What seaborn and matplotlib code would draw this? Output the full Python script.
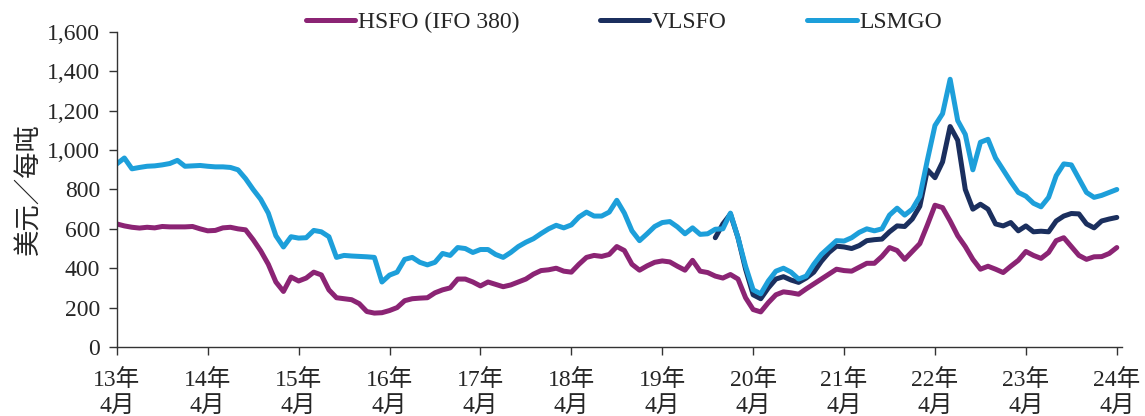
import numpy as np
import pandas as pd
import seaborn as sns
import matplotlib.pyplot as plt

# ============ данные: ежемесячно, 13年4月 .. 24年4月 ============
years = ['13', '14', '15', '16', '17', '18', '19', '20', '21', '22', '23', '24']
tick_labels = [y + '年\n4月' for y in years]

hsfo = [625, 615, 608, 604, 608, 605, 612, 610, 610, 610, 612, 600,
        590, 592, 605, 608, 600, 595, 545, 488, 420, 330, 282, 355,
        335, 350, 380, 366, 290, 250, 245, 240, 220, 180, 172, 174,
        185, 200, 235, 245, 248, 250, 275, 290, 300, 345, 345, 330,
        310, 330, 318, 306, 315, 330, 345, 370, 388, 392, 400, 385,
        380, 420, 455, 465, 460, 470, 510, 490, 420, 390, 412, 430,
        437, 432, 410, 390, 440, 385, 378, 360, 350, 368, 345, 250,
        190, 178, 225, 265, 280, 275, 268, 295, 320, 345, 370, 395,
        388, 385, 405, 425, 425, 460, 505, 490, 445, 485, 525, 620,
        720, 708, 640, 565, 510, 445, 395, 410, 395, 378, 410, 440,
        485, 465, 450, 480, 540, 555, 510, 465, 445, 458, 459, 475,
        505]

vlsfo = [np.nan] * 79 + [
        555, 625, 675, 555, 395,
        265, 245, 300, 345, 357, 340, 328, 350, 380, 435, 480, 512,
        508, 500, 515, 540, 545, 548, 585, 615, 612, 650, 715, 900,
        860, 940, 1120, 1050, 800, 700, 725, 700, 625, 615, 632, 590,
        615, 585, 588, 585, 640, 665, 678, 676, 625, 605, 640, 650,
        658]

lsmgo = [930, 960, 905, 912, 918, 920, 925, 932, 948, 918, 920, 922,
         918, 915, 915, 912, 900, 855, 800, 750, 680, 565, 508, 560,
         553, 555, 592, 585, 560, 455, 465, 462, 460, 458, 455, 330,
         365, 380, 445, 455, 430, 417, 430, 475, 465, 505, 500, 480,
         495, 495, 470, 455, 480, 510, 532, 550, 576, 600, 618, 605,
         620, 660, 685, 665, 665, 685, 745, 680, 590, 540, 575, 612,
         632, 637, 610, 575, 605, 572, 575, 598, 600, 680, 555, 410,
         290, 270, 335, 385, 400, 380, 345, 360, 420, 470, 505, 540,
         538, 555, 582, 600, 590, 600, 670, 705, 670, 700, 765, 950,
         1125, 1185, 1360, 1150, 1080, 900, 1040, 1055, 960, 900, 840, 785,
         766, 730, 712, 760, 870, 930, 925, 855, 785, 760, 770, 785,
         800]

names = ['HSFO (IFO 380)', 'VLSFO', 'LSMGO']
colors = ['#8b2474', '#1b2f5e', '#1d9fda']

months = np.arange(len(hsfo))
df = pd.DataFrame({'month': months, names[0]: hsfo, names[1]: vlsfo, names[2]: lsmgo})
df = df.melt(id_vars='month', var_name='fuel', value_name='price').dropna()

# ============ график ============
sns.set_style('ticks')
plt.rcParams['font.family'] = ['Liberation Serif', 'Noto Sans CJK SC']

fig = plt.figure(figsize=(11.45, 4.16), dpi=100)
ax = fig.add_axes([0.102, 0.166, 0.878, 0.757])

sns.lineplot(data=df, x='month', y='price', hue='fuel', hue_order=names,
             palette=colors, linewidth=3.6, ax=ax, legend=True)

ax.set_xlim(0, 132.7)
ax.set_ylim(0, 1600)
ax.set_yticks(range(0, 1601, 200))
ax.set_yticklabels([f'{v:,}' for v in range(0, 1601, 200)], fontsize=17)
ax.set_xticks(range(0, 133, 12))
ax.set_xticklabels(tick_labels, fontsize=17, linespacing=1.3)
ax.tick_params(axis='both', direction='out', length=6, width=1, color='#333333')
ax.tick_params(axis='x', pad=10)
ax.tick_params(axis='y', pad=6)

ax.set_xlabel('')
ax.set_ylabel('美元／每吨', fontsize=19, labelpad=4)

sns.despine(ax=ax)
for s in ['left', 'bottom']:
    ax.spines[s].set_color('#333333')
    ax.spines[s].set_linewidth(1)

ax.legend(loc='center', bbox_to_anchor=(0.545, 0.947), bbox_transform=fig.transFigure,
          ncol=3, frameon=False, fontsize=17, handlelength=2.1, handletextpad=0.12,
          columnspacing=3.4)

fig.savefig('out.png', dpi=100)
